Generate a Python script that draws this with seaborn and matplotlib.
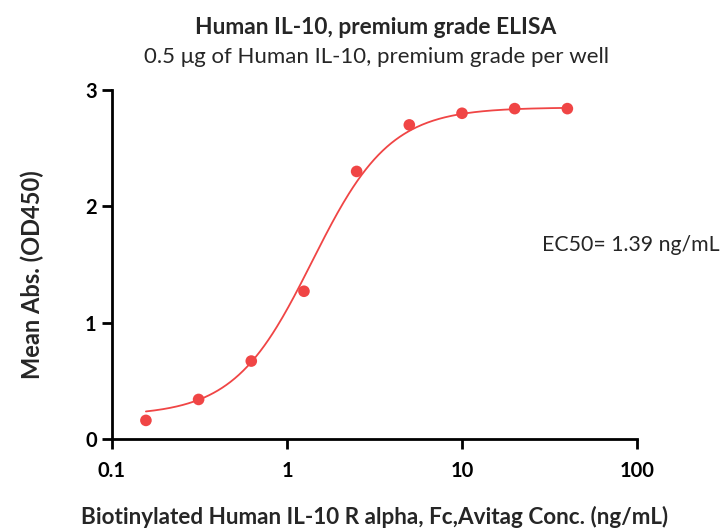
import numpy as np
import pandas as pd
import seaborn as sns
import matplotlib.pyplot as plt

# measured points
conc = [0.15625, 0.3125, 0.625, 1.25, 2.5, 5, 10, 20, 40]
od450 = [0.16, 0.34, 0.67, 1.27, 2.30, 2.70, 2.80, 2.84, 2.84]

# 4PL fit parameters
bottom = 0.20
top = 2.85
ec50 = 1.39
hill = 1.95

sns.set_theme(style="ticks")
plt.rcParams["font.family"] = ["Lato", "DejaVu Sans"]

fit_x = np.logspace(np.log10(conc[0]), np.log10(conc[-1]), 300)
fit_y = bottom + (top - bottom) / (1 + (ec50 / fit_x) ** hill)
fit = pd.DataFrame({"x": fit_x, "y": fit_y})
pts = pd.DataFrame({"x": conc, "y": od450})

fig = plt.figure(figsize=(7.24, 5.29), dpi=100)
ax = fig.add_axes([112 / 724, 1 - 439 / 529, (637 - 112) / 724, (439 - 90) / 529])

red = "#f04545"
sns.lineplot(data=fit, x="x", y="y", color=red, linewidth=1.3, ax=ax)
sns.scatterplot(data=pts, x="x", y="y", color=red, s=70, edgecolor="none", ax=ax, zorder=3)

ax.set_xscale("log")
ax.set_xlim(0.1, 100)
ax.set_ylim(0, 3)
ax.set_xticks([0.1, 1, 10, 100])
ax.set_xticklabels(["0.1", "1", "10", "100"])
ax.set_yticks([0, 1, 2, 3])
ax.minorticks_off()
ax.tick_params(axis="both", direction="out", length=7, width=2, labelsize=14.5, colors="black")
ax.tick_params(axis="x", pad=9)
ax.tick_params(axis="y", pad=4)
for lab in ax.get_xticklabels() + ax.get_yticklabels():
    lab.set_fontweight("bold")
sns.despine(ax=ax)
for sp in ["left", "bottom"]:
    ax.spines[sp].set_linewidth(2)
    ax.spines[sp].set_color("black")

ax.set_xlabel("Biotinylated Human IL-10 R alpha, Fc,Avitag Conc. (ng/mL)",
              fontsize=16.2, fontweight="bold")
ax.set_ylabel("Mean Abs. (OD450)", fontsize=17, fontweight="bold")
ax.xaxis.set_label_coords(0.5, (439 - 517) / 349, transform=ax.transAxes)
ax.yaxis.set_label_coords((32 - 112) / 525, (439 - 275) / 349, transform=ax.transAxes)
ax.xaxis.label.set_va("center")
ax.yaxis.label.set_va("center")

fig.text(376 / 724, 1 - 28 / 529, "Human IL-10, premium grade ELISA", ha="center", va="center",
         fontsize=16.4, fontweight="bold")
fig.text(376 / 724, 1 - 57 / 529, "0.5 μg of Human IL-10, premium grade per well", ha="center",
         va="center", fontsize=16)
ax.text(542 / 724, 1 - 245 / 529, "EC50= 1.39 ng/mL", transform=fig.transFigure,
        ha="left", va="center", fontsize=15.3)

fig.savefig("out.png", dpi=100)
